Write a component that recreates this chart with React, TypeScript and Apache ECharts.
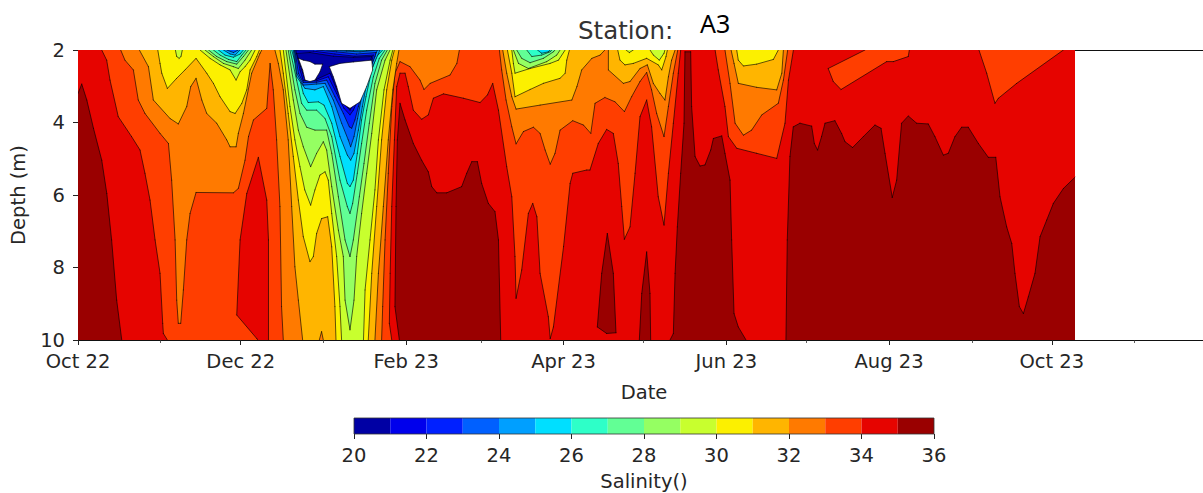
import React, { useEffect, useRef } from "react";
import * as echarts from "echarts";

type Pt = [number, number]; // [days since 1 Oct 2022, depth in m]

const END_DAY = 373.7;
const AXIS_MAX_DAY = 424.3;
const majorTicks: [number, number, string][] = [
  [2022, 9, "Oct 22"], [2022, 11, "Dec 22"], [2023, 1, "Feb 23"], [2023, 3, "Apr 23"],
  [2023, 5, "Jun 23"], [2023, 7, "Aug 23"], [2023, 9, "Oct 23"],
];
const minorTicks: [number, number][] = [
  [2022, 10], [2023, 0], [2023, 2], [2023, 4], [2023, 6], [2023, 8], [2023, 10],
];
const depthTicks = [2, 4, 6, 8, 10];
const salinityLevels = [20, 21, 22, 23, 24, 25, 26, 27, 28, 29, 30, 31, 32, 33, 34, 35, 36];
const bandColors = [
  "#0000a4", "#0000ec", "#0020ff", "#0060ff", "#009fff", "#00dfff", "#2effc8", "#62ff95",
  "#95ff62", "#c8ff2e", "#fcf000", "#ffb500", "#ff7a00", "#ff3e00", "#e60400", "#9a0000",
];

const fullExtent: Pt[][] = [[[0, 2], [END_DAY, 2], [END_DAY, 10], [0, 10]]];

const above35: Pt[][] = [
  [[0,3.2],[1.4,2.94],[3.3,3.38],[5.8,4.16],[8.9,5.04],[10.8,5.96],[12.6,7.24],[14.5,8.9],[16.4,10],[0,10]],
  [[120.7,3.47],[122.6,3.93],[125.7,4.58],[128.8,5.04],[131.3,5.36],[132.6,5.77],[134.5,5.94],[138.2,5.94],[143.8,5.77],[145.7,5.4],[147.6,5.08],[149.7,5.08],[151.3,5.68],[153.8,6.23],[156.3,6.46],[157.6,7.24],[158.45,10],[120.45,10],[118.8,9.08],[119.2,6.32],[119.7,4.48]],
  [[198.4,7.06],[196.3,8.16],[194.65,9.64],[198.15,9.82],[201.65,9.8],[200.65,8.16]],
  [[213.15,7.57],[211.3,8.72],[210.4,10],[214.65,10],[214.4,8.72]],
  [[221.9,10],[223.15,9.82],[223.8,8.16],[224.65,6.88],[225.9,5.4],[227.15,4.02],[227.5,2.05],[229.65,2.05],[230,3.56],[231.3,4.94],[233.15,5.2],[235,5.17],[237.15,4.76],[238.15,4.44],[241.3,4.37],[242.5,4.85],[244.4,5.59],[245,7.24],[245.9,9.27],[247.5,9.64],[250.4,10]],
  [[265.35,10],[265.85,7.24],[266.85,4.94],[268.1,4.12],[270.6,4.02],[275,4.1],[276,4.58],[277.2,4.76],[278.7,4.39],[280,4.02],[283.7,3.95],[286.2,4.3],[287.5,4.53],[290.35,4.69],[294.35,4.39],[298.7,4.07],[301,4.16],[302.5,4.85],[305.2,6.07],[306.85,5.59],[308.7,4.02],[311.2,3.82],[314.35,4.02],[318.7,4.04],[321.2,4.39],[324.35,4.9],[326.2,4.85],[328.7,4.39],[331.2,4.13],[333.7,4.13],[337.5,4.58],[341.2,4.96],[344,4.96],[345.6,6.05],[348.1,6.88],[350,7.34],[351.2,8.16],[352.85,9.08],[354.35,9.27],[356.2,8.81],[358.7,8.16],[360.6,7.15],[363.1,6.69],[365.6,6.23],[369.35,5.82],[373.7,5.51],[373.7,10]],
];

const below34: Pt[][] = [
  [[8.9,2],[10.75,2.28],[12,2.83],[15.1,3.84],[20.1,4.39],[23.25,4.76],[25.1,5.4],[27,6.14],[28.9,7.24],[30.75,8.16],[31.75,9.54],[32,9.82],[33.5,10],[117.6,10],[116.7,9.54],[117,8.16],[117.6,6.32],[118.6,4.48],[119.45,3.01],[120.7,2.64],[122.6,2.64],[123.8,3.01],[125.7,3.66],[128.8,3.91],[131.3,3.79],[133.2,3.33],[137,3.21],[144.45,3.33],[150.7,3.45],[153.45,3.24],[155.45,2.92],[157.6,3.66],[160.7,5.22],[162.6,6.05],[163.8,7.7],[164.2,8.85],[166.3,8.07],[168.8,6.51],[170.45,6.23],[172,6.6],[173.2,8.16],[176.3,9.36],[177,9.96],[178.2,9.64],[182,7.42],[184.45,5.68],[185.45,5.4],[190.7,5.31],[191.9,5.31],[195,4.58],[198.15,4.19],[200.65,4.3],[202.5,5.13],[203.8,6.32],[204.8,7.22],[206.9,6.88],[208.8,5.4],[210.65,3.84],[213.15,3.38],[215,4.12],[217.5,6.05],[219.65,6.83],[221.3,5.4],[223.15,4.02],[225,2.64],[225.9,2]],
  [[238.8,2],[240,2.55],[242.5,3.56],[243.8,4.39],[246.9,4.71],[254.4,4.85],[261.9,4.99],[265,4.02],[266.3,2.83],[268.15,2]],
  [[281.2,2.51],[283.1,2.87],[286,3.09],[303.1,2.32],[305.6,2.32],[311.2,2.18],[311.6,2],[295,2]],
  [[337.7,2],[340.6,2.64],[343.7,3.47],[345,3.33],[351.85,2.92],[369.35,2]],
];

const decemberAbove34: Pt[][] = [
  [[67.6,4.96],[63.25,5.96],[60.75,7.24],[59.5,9.31],[67,9.96],[67.4,10],[71.4,10],[71.4,7.24],[70.75,6.14]],
];

const below33: Pt[][] = [
  [[16,2],[17.6,2.28],[20.75,2.55],[22.6,3.38],[25.1,3.75],[30.75,4.3],[33.9,4.58],[35.1,5.59],[36.4,7.24],[37,8.9],[37.6,9.54],[38.5,9.54],[39.5,8.62],[40.75,7.24],[42,6.51],[44.25,5.93],[58.25,5.94],[60.1,5.82],[62.6,5.04],[63.9,4.39],[65.75,3.93],[70.75,3.61],[72,2.37],[73.2,3.1],[74.45,4.48],[75.7,6.32],[76.3,9.08],[76.95,10],[113.8,10],[114.2,9.08],[115.1,7.24],[116.3,5.4],[117.6,3.56],[118.8,2.64],[120.7,2.32],[124.45,2.46],[128.2,2.83],[129.7,3.09],[132,2.92],[139.45,2.69],[142,2.37],[142.95,2]],
  [[157.95,2],[158.8,2.55],[160.45,3.38],[162.6,4.12],[164.2,4.59],[166.95,4.25],[170.7,4.13],[173.2,4.3],[175.1,4.76],[177,5.15],[178.8,4.85],[180.7,4.21],[185.45,3.95],[189.45,4.07],[192.2,4.3],[193.8,3.47],[197.5,3.31],[201.3,3.43],[204.8,3.7],[207.5,3.29],[210.65,2.87],[213.15,2.62],[215,3.1],[216.9,3.75],[219.65,4.39],[221.3,3.56],[223.15,2.64],[224.8,2]],
  [[242.5,2],[244.4,2.92],[246.3,4.02],[249.4,4.35],[252.5,4.21],[256.3,3.79],[262.5,3.47],[264.4,2.83],[266,2]],
];

const below32: Pt[][] = [
  [[23,2],[26.4,2.46],[28.25,3.38],[34.5,3.89],[37.6,4.04],[40.75,3.56],[42.25,3.01],[44.25,2.78],[46.4,3.38],[48.25,3.75],[52,4.02],[55.75,4.48],[57,4.67],[59.25,4.67],[60.1,4.3],[62,3.75],[65.1,2.64],[68.25,2.09],[68.9,2]],
  [[73.8,2],[75.1,2.37],[76.95,3.1],[78.8,4.48],[80.1,6.32],[81.3,7.98],[82.6,8.9],[84.2,10],[111.3,10],[112.6,8.16],[114.45,6.32],[116.3,4.48],[118,3.1],[119.45,2.37],[120.3,2]],
  [[159.2,2],[160.7,2.64],[162.6,3.29],[164.2,3.63],[173.2,3.52],[185.1,3.38],[187,3.01],[188.8,2.55],[192.6,2.23],[195.7,2.14],[197.5,2]],
  [[198.8,2],[198.8,2.55],[204.4,2.92],[206.9,2.87],[210.65,2.51],[213.4,2.41],[215.65,2.92],[218.15,3.2],[220,3.38],[221.3,2.74],[222.5,2.28],[223.8,2]],
  [[244.8,2],[245.9,2.37],[247.5,2.92],[254.4,3.03],[261.9,3.1],[263.8,2.64],[264.4,2]],
];

const januaryAbove32: Pt[][] = [[[90.45,10],[91.3,9.77],[91.95,10]]];

const below31: Pt[][] = [
  [[29.9,2],[30.75,2.37],[31.4,2.64],[33.5,3.06],[37,2.78],[40.1,2.55],[44.25,2.23],[48.25,2.64],[50.75,2.92],[53.25,3.29],[57,3.7],[58.9,3.75],[61.4,3.47],[63.25,3.1],[64.5,2.55],[67,2.18],[68,2]],
  [[75.7,2],[76.95,2.64],[78.8,3.75],[80.7,4.94],[82.6,6.14],[84.45,7.15],[86.95,7.84],[88.2,7.7],[89.45,7.06],[91.3,6.65],[93.6,6.6],[95.1,7.43],[96.3,9.08],[96.7,10],[108.8,10],[110.1,8.16],[111.95,6.32],[113.8,4.48],[115.7,3.1],[117.6,2.28],[118.6,2]],
  [[160.95,2],[162.6,2.64],[163.8,3.29],[169.45,3.09],[174.45,2.92],[180.7,2.78],[182.6,2.64],[183.2,2.28],[184.2,2]],
  [[202.3,2],[203.15,2.28],[205,2.41],[208.15,2.37],[213.15,2.23],[217.5,2.41],[218.8,2.55],[220.4,2.18],[220.9,2]],
  [[246.9,2],[247.5,2.28],[249.4,2.44],[254.4,2.39],[260.65,2.26],[262.5,2]],
];

const below30: Pt[][] = [
  [[36.5,2],[37,2.18],[37.9,2.23],[38.6,2.18],[39.1,2]],
  [[45.75,2],[49.5,2.23],[53.25,2.41],[57,2.55],[59.25,2.83],[60.75,2.6],[62.6,2.46],[64.5,2.28],[66.4,2]],
  [[76.95,2],[79.45,3.56],[81.3,4.48],[83.2,5.22],[85,5.86],[87.2,6.28],[88.8,5.86],[90.7,5.45],[92.6,5.36],[93.8,5.59],[95.1,6.51],[96.95,7.7],[98.2,9.08],[98.8,10],[107,10],[107.6,8.62],[109.45,7.24],[111.3,5.86],[112.6,4.48],[114.7,3.1],[117,2.28],[118,2]],
  [[162.6,2],[163.2,2.37],[163.8,2.64],[169.45,2.51],[176.95,2.37],[180.1,2.28],[182.6,2]],
  [[205.4,2],[206.65,2.07],[208.15,2]],
  [[214.4,2],[215.65,2.14],[217.9,2.28],[219.65,2.09],[220,2]],
];

const below29: Pt[][] = [
  [[47.6,2],[50.75,2.18],[54.5,2.37],[58.25,2.46],[60.1,2.51],[62.6,2.28],[65.1,2]],
  [[77.95,2],[80.7,3.38],[82.6,4.21],[84.45,4.67],[87.2,5.22],[89.45,4.85],[91.95,4.53],[93.2,4.76],[95.1,5.77],[97.6,6.97],[99.45,7.7],[100.1,8.9],[101.95,9.72],[103.45,8.9],[104.45,7.7],[106.3,6.51],[108.2,5.4],[110.1,4.3],[111.95,3.1],[115.1,2.28],[116.95,2]],
  [[163.2,2],[165.1,2.37],[168.8,2.51],[175.7,2.32],[179.45,2.14],[180.7,2]],
];

const below28: Pt[][] = [
  [[48.9,2],[52,2.18],[55.75,2.32],[59.5,2.39],[62,2.18],[63.9,2]],
  [[78.8,2],[81.3,3.1],[83.2,3.75],[85.7,4.13],[88.8,4.21],[93.2,4.21],[95.1,4.85],[97.6,6.05],[100.1,7.24],[101.95,7.7],[103.2,7.24],[105.45,6.05],[107.2,5.13],[109.2,4.02],[111.3,2.92],[113.8,2.28],[115.95,2]],
  [[164.45,2],[166.3,2.23],[169.45,2.35],[174.45,2.23],[178.2,2.05],[178.8,2]],
];

const below27: Pt[][] = [
  [[50.75,2],[53.25,2.14],[56.4,2.26],[59.5,2.32],[61.4,2.14],[63,2]],
  [[79.45,2],[81.95,2.83],[83.8,3.47],[85.7,3.66],[89.45,3.66],[92.6,3.89],[95.1,4.39],[98.2,5.59],[100.95,6.32],[101.95,6.51],[102.95,6.23],[104.7,5.4],[106.3,4.58],[108.2,3.66],[110.7,2.74],[112.95,2.23],[115.1,2]],
  [[168.2,2],[170.1,2.18],[173.8,2.14],[176.95,2.05],[177.6,2]],
];

const below26: Pt[][] = [
  [[52.6,2],[55.1,2.14],[58.25,2.2],[60.75,2.11],[62,2]],
  [[80.1,2],[83.2,2.83],[84.45,3.2],[86.3,3.45],[90.1,3.43],[92.2,3.52],[95.1,4.02],[98.2,4.94],[100.95,5.68],[101.95,5.77],[103.2,5.59],[104.7,4.85],[106.3,3.93],[107.95,3.29],[110.1,2.55],[111.95,2.18],[114.2,2]],
  [[172.2,2],[173.8,2.09],[176.3,2.05],[176.95,2]],
];

const below25: Pt[][] = [
  [[54.5,2],[57,2.11],[58.9,2.14],[60.75,2]],
  [[80.7,2],[81.95,2.74],[85.1,3.06],[88.8,3.1],[91.95,3.01],[95.1,3.56],[98.2,4.39],[100.95,4.9],[102.2,5.04],[103.45,4.85],[105.1,4.21],[106.6,3.56],[108.2,2.92],[110.45,2.46],[113.2,2],[108.2,2.02],[103.2,2.02],[98.2,2]],
];

const below24: Pt[][] = [
  [[55.75,2],[58.25,2.07],[60.1,2]],
  [[81.1,2],[81.95,2.64],[84.45,2.97],[89.45,2.94],[92.6,2.92],[95.7,3.38],[98.8,4.02],[101.3,4.48],[102.2,4.67],[103.45,4.39],[104.8,3.89],[106.3,3.29],[108.2,2.74],[110.7,2.28],[112.2,2],[105.7,2.05],[100.7,2.03],[93.2,2]],
];

const below23: Pt[][] = [
  [[81.3,2],[82.6,2.64],[84.45,2.9],[89.45,2.89],[93.2,2.83],[96.3,3.29],[99.45,3.75],[101.7,4.12],[102.6,4.16],[103.8,3.93],[105.1,3.56],[107,3.01],[108.8,2.64],[111.3,2.18],[111.7,2.07],[104.45,2.11],[96.95,2.05],[89.45,2]],
];

const below22: Pt[][] = [
  [[81.7,2.02],[83.2,2.55],[84.45,2.85],[89.45,2.85],[93.8,2.74],[96.95,3.2],[99.7,3.61],[101.95,3.79],[103.2,3.66],[105.45,3.29],[107.2,2.87],[109.45,2.51],[110.7,2.14],[103.8,2.17],[96.3,2.11],[88.2,2.03]],
];

const below21: Pt[][] = [
  [[81.95,2.09],[83.45,2.46],[85.1,2.83],[89.45,2.81],[94.45,2.64],[97.6,3.2],[100.1,3.52],[101.95,3.66],[104.45,3.38],[106.95,2.92],[108.8,2.55],[110.1,2.18],[103.2,2.2],[95.7,2.17],[86.95,2.07]],
];

const below20: Pt[][] = [
  [[82.6,2.23],[84.45,2.28],[86.95,2.32],[88.8,2.39],[91.7,2.39],[90.7,2.6],[88.8,2.83],[86.95,2.87],[85.1,2.83],[84.2,2.55]],
  [[94.2,2.46],[98.2,2.37],[103.2,2.33],[110.1,2.28],[110.45,2.55],[108.2,3.01],[105.7,3.43],[101.95,3.61],[98.8,3.47],[96.95,3.01],[95.7,2.74]],
];

const layerDefs: [Pt[][], string][] = [
  [fullExtent, bandColors[14]], [above35, bandColors[15]], [below34, bandColors[13]],
  [decemberAbove34, bandColors[14]], [below33, bandColors[12]], [below32, bandColors[11]],
  [januaryAbove32, bandColors[12]], [below31, bandColors[10]], [below30, bandColors[9]],
  [below29, bandColors[8]], [below28, bandColors[7]], [below27, bandColors[6]],
  [below26, bandColors[5]], [below25, bandColors[4]], [below24, bandColors[3]],
  [below23, bandColors[2]], [below22, bandColors[1]], [below21, bandColors[0]],
  [below20, "#ffffff"],
];

const T0 = Date.UTC(2022, 9, 1);
const dayOf = (y: number, m: number) => (Date.UTC(y, m, 1) - T0) / 86400000;
const FONT = "'DejaVu Sans'";
const TEXT = "#262626";

const polys = layerDefs.flatMap(([list, color]) => list.map((pts) => ({ pts, color })));

function sameEdge(a: Pt, b: Pt) {
  const e = 0.001;
  return (
    (a[1] <= 2 + e && b[1] <= 2 + e) || (a[1] >= 10 - e && b[1] >= 10 - e) ||
    (a[0] <= e && b[0] <= e) || (a[0] >= END_DAY - e && b[0] >= END_DAY - e)
  );
}

const renderContour = (params: any, api: any) => {
  const { pts, color } = polys[params.dataIndex];
  const px = pts.map((p) => api.coord([p[0], p[1]]));
  const children: any[] = [
    { type: "polygon", shape: { points: px }, style: { fill: color, stroke: null }, silent: true },
  ];
  for (let i = 0; i < pts.length; i++) {
    const j = (i + 1) % pts.length;
    if (sameEdge(pts[i], pts[j])) continue;
    children.push({
      type: "line",
      shape: { x1: px[i][0], y1: px[i][1], x2: px[j][0], y2: px[j][1] },
      style: { stroke: "#000", lineWidth: 0.8, opacity: 0.78, lineCap: "round" },
      silent: true,
    });
  }
  return { type: "group", children };
};

const renderColorbar = (params: any, api: any) => {
  const i = params.dataIndex;
  const bar = i < bandColors.length;
  const lo = bar ? salinityLevels[i] : salinityLevels[0];
  const hi = bar ? salinityLevels[i + 1] : salinityLevels[salinityLevels.length - 1];
  const a = api.coord([lo, 1]);
  const b = api.coord([hi, 0]);
  return {
    type: "rect",
    shape: { x: a[0], y: a[1], width: b[0] - a[0], height: b[1] - a[1] },
    style: bar
      ? { fill: bandColors[i], stroke: null }
      : { fill: "none", stroke: "#333", lineWidth: 0.8 },
    silent: true,
  };
};

export default function App() {
  const ref = useRef<HTMLDivElement>(null);
  useEffect(() => {
    const chart = echarts.init(ref.current!, undefined, { renderer: "svg" });
    const labels: Record<number, string> = {};
    const majors = majorTicks.map(([y, m, l]) => {
      const d = dayOf(y, m);
      labels[d] = l;
      return d;
    });
    const minors = minorTicks.map(([y, m]) => dayOf(y, m));
    const dayRange = { type: "value" as const, gridIndex: 0, min: 0, max: AXIS_MAX_DAY };
    chart.setOption({
      animation: false,
      backgroundColor: "#fff",
      grid: [
        { left: 78, top: 50, width: 1132, height: 290, show: false, outerBoundsMode: "none", containLabel: false },
        { left: 354, top: 418, width: 580, height: 16, show: false, outerBoundsMode: "none", containLabel: false },
      ],
      xAxis: [
        {
          ...dayRange,
          position: "bottom",
          name: "Date",
          nameLocation: "middle",
          nameGap: 42,
          nameTextStyle: { fontFamily: FONT, fontSize: 19.5, color: TEXT },
          axisLine: { show: true, lineStyle: { color: "#111", width: 1 } },
          axisTick: { show: true, length: 5, customValues: majors, lineStyle: { color: "#222", width: 1 } },
          axisLabel: {
            show: true,
            customValues: majors,
            formatter: (v: number) => labels[v] ?? "",
            margin: 11,
            fontFamily: FONT,
            fontSize: 19.5,
            color: TEXT,
          },
          splitLine: { show: false },
        },
        {
          ...dayRange,
          position: "bottom",
          axisLine: { show: false },
          axisTick: { show: true, length: 3, customValues: minors, lineStyle: { color: "#333", width: 0.8 } },
          axisLabel: { show: false },
          splitLine: { show: false },
        },
        {
          ...dayRange,
          position: "top",
          axisLine: { show: true, lineStyle: { color: "#111", width: 1 } },
          axisTick: { show: false },
          axisLabel: { show: false },
          splitLine: { show: false },
        },
        {
          type: "value",
          gridIndex: 1,
          position: "bottom",
          min: 20,
          max: 36,
          interval: 2,
          name: "Salinity()",
          nameLocation: "middle",
          nameGap: 37,
          nameTextStyle: { fontFamily: FONT, fontSize: 19.5, color: TEXT },
          axisLine: { show: false },
          axisTick: { show: true, length: 5, lineStyle: { color: "#222", width: 1 } },
          axisLabel: { margin: 11, fontFamily: FONT, fontSize: 19.5, color: TEXT },
          splitLine: { show: false },
        },
      ],
      yAxis: [
        {
          type: "value",
          gridIndex: 0,
          inverse: true,
          min: depthTicks[0],
          max: depthTicks[depthTicks.length - 1],
          interval: 2,
          name: "Depth (m)",
          nameLocation: "middle",
          nameRotate: 90,
          nameGap: 50,
          nameTextStyle: { fontFamily: FONT, fontSize: 19.5, color: TEXT },
          axisLine: { show: false },
          axisTick: { show: true, length: 5, lineStyle: { color: "#222", width: 1 } },
          axisLabel: { margin: 13, fontFamily: FONT, fontSize: 19.5, color: TEXT },
          splitLine: { show: false },
        },
        { type: "value", gridIndex: 1, min: 0, max: 1, show: false },
      ],
      graphic: [
        { type: "text", x: 578, y: 18, silent: true, style: { text: "Station:", fontFamily: FONT, fontSize: 24.5, fill: "#333" } },
        { type: "text", x: 700, y: 10, silent: true, style: { text: "A3", fontFamily: "'Noto Sans'", fontSize: 25, fill: "#000" } },
      ],
      series: [
        {
          type: "custom",
          name: "Salinity contours",
          xAxisIndex: 0,
          yAxisIndex: 0,
          clip: true,
          renderItem: renderContour,
          data: polys.map((p) => [p.pts[0][0], p.pts[0][1]]),
          encode: { x: 0, y: 1 },
          silent: true,
        },
        {
          type: "custom",
          name: "Colorbar",
          xAxisIndex: 3,
          yAxisIndex: 1,
          clip: false,
          renderItem: renderColorbar,
          data: [...bandColors.map((_, i) => [salinityLevels[i], 0]), [20, 0]],
          encode: { x: 0, y: 1 },
          silent: true,
        },
      ],
    });
    return () => chart.dispose();
  }, []);
  return <div ref={ref} style={{ position: "fixed", left: 0, top: 0, width: 1203, height: 493 }} />;
}
